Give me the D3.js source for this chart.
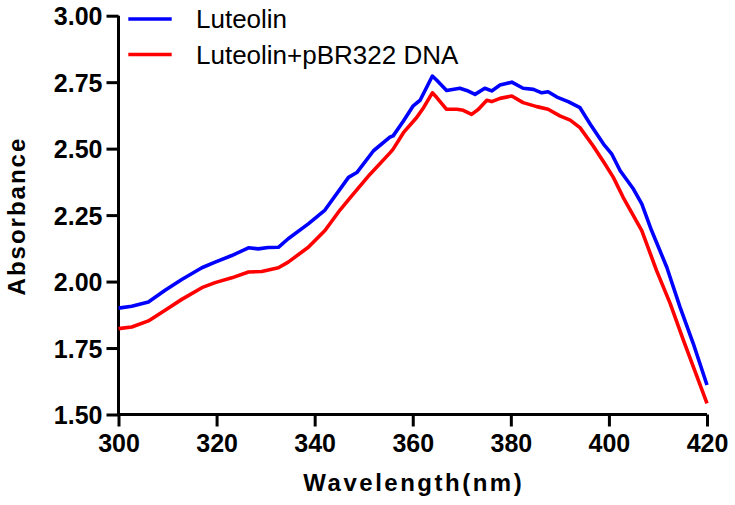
<!DOCTYPE html>
<html>
<head>
<meta charset="utf-8">
<script src="https://cdn.jsdelivr.net/npm/d3@7"></script>
<style>
  html, body { margin: 0; padding: 0; background: #fff; }
  svg { display: block; }
</style>
</head>
<body>
<svg id="chart" width="735" height="505"></svg>
<script>
// ---- data ----
const seriesNames = ["Luteolin", "Luteolin+pBR322 DNA"];
const seriesColors = ["#0000ff", "#ff0000"];

const luteolinX = [300.0, 302.7, 306.1, 309.5, 312.9, 317.0, 319.7, 323.1, 326.5, 328.5, 330.5, 332.6, 334.6, 338.7, 342.1, 346.9, 348.6, 352.0, 355.4, 356.0, 358.1, 360.1, 361.5, 364.0, 364.9, 366.9, 369.6, 371.0, 372.7, 374.7, 376.1, 377.8, 380.2, 382.5, 384.6, 386.3, 387.6, 389.4, 391.7, 394.1, 396.2, 398.9, 400.6, 402.3, 405.0, 406.7, 408.7, 411.8, 414.5, 417.2, 420.0];
const luteolinY = [1.900, 1.907, 1.923, 1.967, 2.008, 2.052, 2.073, 2.098, 2.127, 2.123, 2.128, 2.129, 2.161, 2.217, 2.269, 2.392, 2.410, 2.492, 2.544, 2.548, 2.604, 2.661, 2.682, 2.773, 2.757, 2.719, 2.727, 2.719, 2.704, 2.727, 2.717, 2.739, 2.750, 2.727, 2.723, 2.710, 2.714, 2.694, 2.677, 2.654, 2.592, 2.517, 2.479, 2.417, 2.348, 2.292, 2.192, 2.054, 1.904, 1.767, 1.611];

const dnaX = [300.0, 302.7, 306.1, 309.5, 312.9, 317.0, 319.7, 323.1, 326.5, 329.2, 332.6, 334.6, 338.7, 342.1, 345.2, 347.3, 351.3, 355.4, 356.0, 358.1, 360.8, 362.2, 364.0, 364.9, 366.9, 369.0, 370.3, 372.0, 373.4, 375.1, 376.1, 377.8, 380.2, 382.5, 385.3, 387.6, 390.0, 392.1, 394.1, 396.8, 399.2, 400.9, 402.9, 406.7, 409.7, 412.5, 415.2, 417.6, 420.0];
const dnaY = [1.823, 1.829, 1.852, 1.892, 1.933, 1.977, 1.996, 2.014, 2.036, 2.038, 2.052, 2.073, 2.129, 2.192, 2.270, 2.317, 2.404, 2.485, 2.498, 2.560, 2.617, 2.654, 2.710, 2.692, 2.648, 2.648, 2.644, 2.629, 2.648, 2.682, 2.677, 2.689, 2.698, 2.673, 2.658, 2.648, 2.623, 2.607, 2.579, 2.510, 2.442, 2.392, 2.317, 2.192, 2.042, 1.917, 1.779, 1.660, 1.542];

const xTicks = [300, 320, 340, 360, 380, 400, 420];
const yTicks = [1.50, 1.75, 2.00, 2.25, 2.50, 2.75, 3.00];
const xTitle = "Wavelength(nm)";
const yTitle = "Absorbance";

// ---- layout ----
(function () {
const svg = d3.select("#chart");
const pl = 118.5, pr = 707, pt = 15.7, pb = 414.5;

const x = d3.scaleLinear().domain([300, 420]).range([pl, pr]);
const y = d3.scaleLinear().domain([1.5, 3.0]).range([pb, pt]);

const font = "'Liberation Sans', Arial, Helvetica, sans-serif";

// axes
const xAxis = d3.axisBottom(x).tickValues(xTicks).tickFormat(d3.format("d")).tickSizeOuter(0).tickSize(12).tickPadding(8);
const yAxis = d3.axisLeft(y).tickValues(yTicks).tickFormat(d3.format(".2f")).tickSizeOuter(0).tickSize(12).tickPadding(4);

const gx = svg.append("g").attr("transform", `translate(0,${pb})`).call(xAxis);
const gy = svg.append("g").attr("transform", `translate(${pl},0)`).call(yAxis);

[gx, gy].forEach(g => {
  g.select(".domain").attr("stroke", "#000").attr("stroke-width", 3);
  g.selectAll(".tick line").attr("stroke", "#000").attr("stroke-width", 3);
  g.selectAll(".tick text")
    .attr("fill", "#000")
    .style("font-family", font)
    .style("font-weight", "bold")
    .style("font-size", "25px");
});
gx.select(".domain").attr("d", `M${pl - 1.5},0H${pr}`);
gy.select(".domain").attr("d", `M0,${pt}V${pb + 1.5}`);
gy.selectAll(".tick text").attr("dy", "0.36em");

// lines
const seriesData = [
  luteolinX.map((v, i) => [v, luteolinY[i]]),
  dnaX.map((v, i) => [v, dnaY[i]])
];
const line = d3.line().x(d => x(d[0])).y(d => y(d[1]));

seriesData.forEach((data, i) => {
  svg.append("path")
    .datum(data)
    .attr("fill", "none")
    .attr("stroke", seriesColors[i])
    .attr("stroke-width", 3.6)
    .attr("stroke-linejoin", "round")
    .attr("d", line);
});

// axis titles
svg.append("text")
  .attr("x", (pl + pr) / 2 + 1)
  .attr("y", 491)
  .attr("text-anchor", "middle")
  .style("font-family", font)
  .style("font-weight", "bold")
  .style("font-size", "24px")
  .style("letter-spacing", "2.5px")
  .text(xTitle);

svg.append("text")
  .attr("transform", `translate(25,${(pt + pb) / 2 + 1}) rotate(-90)`)
  .attr("text-anchor", "middle")
  .style("font-family", font)
  .style("font-weight", "bold")
  .style("font-size", "24px")
  .style("letter-spacing", "2px")
  .text(yTitle);

// legend
const legendY = [19, 54.5];
seriesNames.forEach((name, i) => {
  svg.append("line")
    .attr("x1", 128.3).attr("x2", 171.7)
    .attr("y1", legendY[i]).attr("y2", legendY[i])
    .attr("stroke", seriesColors[i])
    .attr("stroke-width", 3.6);
  svg.append("text")
    .attr("x", 196)
    .attr("y", legendY[i] + 9.3)
    .style("font-family", font)
    .style("font-size", "26px")
    .attr("fill", "#000")
    .text(name);
});
})();
</script>
</body>
</html>
